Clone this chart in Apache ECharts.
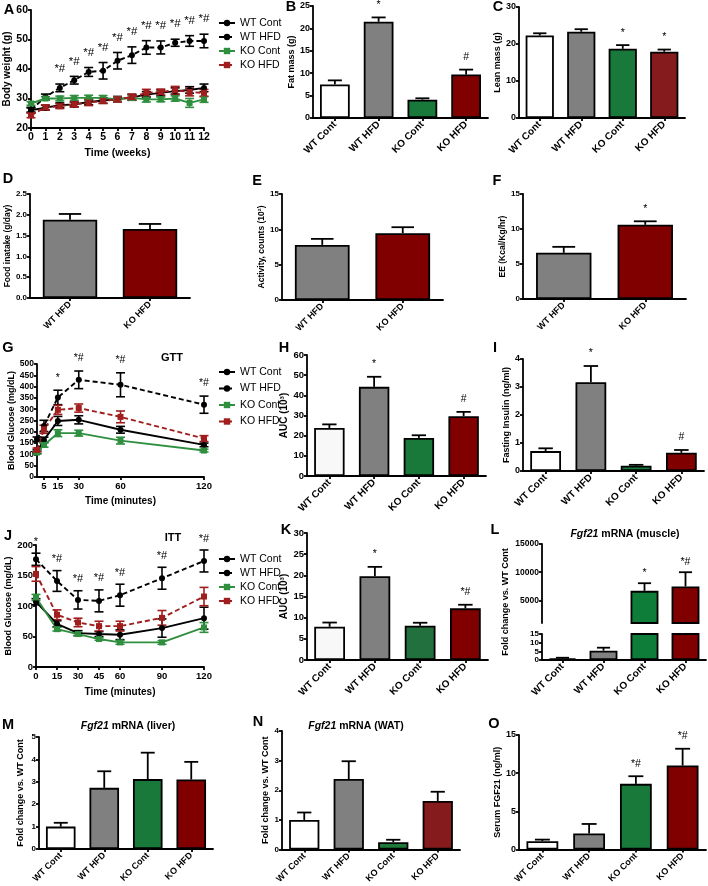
<!DOCTYPE html>
<html><head><meta charset="utf-8">
<script src="https://cdn.jsdelivr.net/npm/echarts@6.0.0/dist/echarts.min.js"></script>
<style>html,body{margin:0;padding:0;background:#fff}#c{width:708px;height:886px}</style>
</head><body><div id="c"></div>
<script>
// ---------------- DATA ----------------
const groups = ['WT Cont', 'WT HFD', 'KO Cont', 'KO HFD'];
const hfdGroups = ['WT HFD', 'KO HFD'];

// A: body weight
const weeks = [0,1,2,3,4,5,6,7,8,9,10,11,12];
const bwWTCont    = [26.0,26.9,27.7,28.0,28.8,29.3,29.8,30.4,31.3,31.9,32.5,32.9,33.6];
const bwWTContErr = [0.8,0.8,0.8,0.8,0.9,0.9,0.9,1.0,1.0,1.0,1.1,1.1,1.3];
const bwWTHFD     = [26.2,30.5,33.6,36.2,39.0,39.4,42.8,44.7,47.3,47.3,48.9,49.5,49.5];
const bwWTHFDErr  = [0.8,1.0,1.3,1.3,1.5,2.8,2.8,2.8,2.3,2.2,1.2,1.8,2.3];
const bwKOCont    = [28.3,30.0,30.0,30.2,30.2,30.2,29.7,30.2,29.7,29.7,30.0,28.5,29.7];
const bwKOContErr = [0.6,0.6,0.8,0.8,0.9,0.8,0.6,0.7,0.9,0.8,0.9,1.5,1.0];
const bwKOHFD     = [24.3,27.0,27.4,28.0,28.6,29.2,29.7,30.5,31.9,32.2,32.8,32.2,31.9];
const bwKOHFDErr  = [0.8,0.8,0.8,0.9,1.0,0.9,0.9,1.0,1.2,1.0,1.3,1.3,1.2];
const bwAnnoIdx   = [2,3,4,5,6,7,8,9,10,11,12];
const bwAnnoText  = ['*#','*#','*#','*#','*#','*#','*#','*#','*#','*#','*#'];

// B: fat mass, C: lean mass
const fatMass = [7.5, 21.5, 4.1, 9.7];
const fatMassErr = [0.9, 0.95, 0.3, 1.1];
const fatAnnoIdx = [1, 3]; const fatAnnoText = ['*', '#'];
const leanMass = [22.3, 23.3, 18.7, 17.9];
const leanMassErr = [0.6, 0.7, 1.0, 0.6];
const leanAnnoIdx = [2, 3]; const leanAnnoText = ['*', '*'];

// D, E, F
const foodIntake = [1.88, 1.66]; const foodIntakeErr = [0.14, 0.12];
const activity = [7.8, 9.45]; const activityErr = [0.85, 0.85];
const energyExp = [6.6, 10.6]; const energyExpErr = [0.85, 0.5];
const eeAnnoIdx = [1]; const eeAnnoText = ['*'];

// G: GTT
const gttTime = [0, 5, 15, 30, 60, 120];
const gttTicks = [5, 15, 30, 60, 120];
const gttWTCont = [112, 164, 248, 253, 209, 142];
const gttWTContErr = [8, 12, 20, 18, 15, 8];
const gttWTHFD = [167, 226, 352, 430, 408, 320];
const gttWTHFDErr = [10, 25, 32, 39, 53, 38];
const gttKOCont = [108, 142, 194, 194, 161, 117];
const gttKOContErr = [6, 10, 15, 13, 15, 6];
const gttKOHFD = [120, 211, 297, 305, 266, 170];
const gttKOHFDErr = [8, 18, 20, 18, 26, 13];
const gttAnnoIdx = [2, 3, 4, 5]; const gttAnnoText = ['*', '*#', '*#', '*#'];

// H: GTT AUC, I: fasting insulin
const gttAUC = [23.8, 44.2, 18.9, 29.6]; const gttAUCErr = [1.8, 5.0, 1.3, 2.2];
const gttAUCAnnoIdx = [1, 3]; const gttAUCAnnoText = ['*', '#'];
const insulin = [0.71, 3.17, 0.19, 0.65]; const insulinErr = [0.1, 0.58, 0.03, 0.1];
const insAnnoIdx = [1, 3]; const insAnnoText = ['*', '#'];

// J: ITT
const ittTime = [0, 15, 30, 45, 60, 90, 120];
const ittTicks = [0, 15, 30, 45, 60, 90, 120];
const ittWTCont = [107, 70.8, 55.6, 54, 52.9, 63.8, 80];
const ittWTContErr = [5, 5, 4, 4, 8, 15, 18];
const ittWTHFD = [176.6, 141, 110, 108.4, 117.7, 145.5, 173.8];
const ittWTHFDErr = [10, 17, 15, 18, 18, 18, 18];
const ittKOCont = [114, 62, 54, 45.8, 40.3, 40.3, 64.8];
const ittKOContErr = [5, 3, 3, 2, 3, 3, 8];
const ittKOHFD = [152.6, 85.6, 73, 67, 67, 80.6, 115.5];
const ittKOHFDErr = [12, 8, 7, 8, 8, 12, 15];
const ittAnnoIdx = [0, 1, 2, 3, 4, 5, 6]; const ittAnnoText = ['*', '*#', '*#', '*#', '*#', '*#', '*#'];

// K: ITT AUC, L: muscle Fgf21
const ittAUC = [7.85, 19.8, 8.1, 12.2]; const ittAUCErr = [1.0, 2.2, 0.7, 0.85];
const ittAUCAnnoIdx = [1, 3]; const ittAUCAnnoText = ['*', '*#'];
const fgfMuscle = [1, 5.4, 6700, 7470]; const fgfMuscleErr = [0.3, 1.7, 1350, 2530];
const muscleAnnoIdx = [2, 3]; const muscleAnnoText = ['*', '*#'];
const muscleTopTicks = [5000, 10000, 15000];

// M, N, O
const fgfLiver = [1.0, 2.73, 3.12, 3.1]; const fgfLiverErr = [0.17, 0.74, 1.18, 0.79];
const fgfWAT = [1.0, 2.38, 0.25, 1.64]; const fgfWATErr = [0.25, 0.6, 0.08, 0.31];
const serumFGF = [1.1, 2.1, 8.6, 11.0]; const serumFGFErr = [0.2, 1.25, 1.0, 2.2];
const serumAnnoIdx = [2, 3]; const serumAnnoText = ['*#', '*#'];

// ---------------- STYLE / BUILD ----------------
const FONT = '"Liberation Sans", Arial, Helvetica, sans-serif';
const RED = '#800000', RED2 = '#861b1d', GREEN = '#18793a', GRAY = '#808080';
const BW = 1.8;
const barColor = {'WT Cont': '#ffffff', 'WT HFD': GRAY, 'KO Cont': GREEN, 'KO HFD': RED};
const lineSty = {
  'WT Cont': {color: '#000', dash: false, symbol: 'circle'},
  'WT HFD':  {color: '#000', dash: true,  symbol: 'circle'},
  'KO Cont': {color: '#2f8f3f', dash: false, symbol: 'rect'},
  'KO HFD':  {color: '#a01e1e', dash: true,  symbol: 'rect'}
};

const grids = [], xAxes = [], yAxes = [], series = [];
function addGrid(l, t, w, h) { grids.push({left: l, top: t, width: w, height: h}); return grids.length - 1; }

function yAx(gi, min, max, interval, name, o) {
  o = o || {};
  const ax = {
    type: 'value', gridIndex: gi, min, max, interval,
    name: name || '', nameLocation: 'middle', nameRotate: 90, nameGap: o.nameGap || 18,
    nameTextStyle: {fontFamily: FONT, fontWeight: 'bold', fontSize: o.nameSize || 9, color: '#000'},
    axisLine: {show: true, lineStyle: {color: '#000', width: BW}},
    axisTick: {show: true, length: 3, lineStyle: {color: '#000', width: BW}},
    axisLabel: {fontFamily: FONT, fontWeight: 'bold', fontSize: o.labelSize || 8.5, color: '#000', margin: 3,
      formatter: o.formatter || (v => String(v))},
    splitLine: {show: false}
  };
  if (o.custom) { ax.axisLabel.customValues = o.custom; ax.axisTick.customValues = o.custom; }
  yAxes.push(ax);
}
function xCat(gi, data, o) {
  o = o || {};
  xAxes.push({
    type: 'category', gridIndex: gi, data, show: o.show !== false,
    axisLine: {show: true, onZero: false, lineStyle: {color: '#000', width: BW}},
    axisTick: {show: true, alignWithLabel: true, length: 3, lineStyle: {color: '#000', width: BW}},
    axisLabel: {rotate: 45, interval: 0, fontFamily: FONT, fontWeight: 'bold', fontSize: o.labelSize || 9.5, color: '#000', margin: 5},
    splitLine: {show: false}
  });
}
function xVal(gi, min, max, interval, name, o) {
  o = o || {};
  const ax = {
    type: 'value', gridIndex: gi, min, max, interval,
    name, nameLocation: 'middle', nameGap: o.nameGap || 20,
    nameTextStyle: {fontFamily: FONT, fontWeight: 'bold', fontSize: o.nameSize || 10, color: '#000'},
    axisLine: {show: true, onZero: false, lineStyle: {color: '#000', width: BW}},
    axisTick: {show: true, length: 3, lineStyle: {color: '#000', width: BW}},
    axisLabel: {fontFamily: FONT, fontWeight: 'bold', fontSize: o.labelSize || 9.5, color: '#000', margin: 4, showMinLabel: true, showMaxLabel: true},
    splitLine: {show: false}
  };
  if (o.custom) { ax.axisLabel.customValues = o.custom; ax.axisTick.customValues = o.custom; }
  xAxes.push(ax);
}

function barSeries(gi, cats, vals, colors, o) {
  o = o || {};
  series.push({
    type: 'bar', xAxisIndex: gi, yAxisIndex: gi, barWidth: o.barWidth || '68%', silent: true, animation: false,
    clip: true,
    data: vals.map((v, k) => ({value: v, itemStyle: {color: (colors && colors[cats[k]]) || barColor[cats[k]]}})),
    itemStyle: {borderColor: '#000', borderWidth: BW}, z: 2
  });
}
function barErr(gi, vals, errs, o) {
  o = o || {};
  const capFrac = o.cap || 0.16;
  series.push({
    type: 'custom', xAxisIndex: gi, yAxisIndex: gi, silent: true, animation: false, clip: !!o.clip, z: 3,
    data: vals.map((v, k) => [k, v, errs[k]]),
    renderItem: function (p, api) {
      const x = api.value(0), m = api.value(1), e = api.value(2);
      const a = api.coord([x, m]), b = api.coord([x, m + e]);
      const w = api.size([1, 0])[0] * capFrac;
      const st = {stroke: '#000', lineWidth: BW};
      return {type: 'group', children: [
        {type: 'line', shape: {x1: a[0], y1: a[1], x2: b[0], y2: b[1]}, style: st},
        {type: 'line', shape: {x1: b[0] - w, y1: b[1], x2: b[0] + w, y2: b[1]}, style: st}
      ]};
    }
  });
}
function anno(gi, xs, tops, texts, gap, fs) {
  series.push({
    type: 'custom', xAxisIndex: gi, yAxisIndex: gi, silent: true, animation: false, z: 6, clip: false,
    data: xs.map((x, k) => [x, tops[k]]),
    renderItem: function (p, api) {
      const c = api.coord([api.value(0), api.value(1)]);
      return {type: 'text', x: c[0], y: c[1] - gap, style: {
        text: texts[p.dataIndex], fontSize: fs, fontFamily: FONT, fill: '#000',
        align: 'center', verticalAlign: 'bottom'}};
    }
  });
}
function barPanel(rect, cats, vals, errs, yOpt, annoIdx, annoText, o) {
  o = o || {};
  const gi = addGrid(rect[0], rect[1], rect[2], rect[3]);
  xCat(gi, cats, {labelSize: o.xLabelSize});
  yAx(gi, yOpt[0], yOpt[1], yOpt[2], yOpt[3], o.y);
  barSeries(gi, cats, vals, o.colors);
  barErr(gi, vals, errs, {cap: o.cap});
  if (annoIdx) anno(gi, annoIdx, annoIdx.map(k => vals[k] + errs[k]), annoText, o.annoGap || 7, o.annoSize || 10.5);
  return gi;
}
function linePanel(gi, xs, list) {
  list.forEach(([name, ys, es]) => {
    const s = lineSty[name];
    series.push({
      type: 'line', name, xAxisIndex: gi, yAxisIndex: gi, silent: true, animation: false, z: 4,
      data: xs.map((x, k) => [x, ys[k]]), symbol: s.symbol, symbolSize: 6, showSymbol: true,
      lineStyle: {color: s.color, width: 1.9, type: s.dash ? [5, 3] : 'solid'}, itemStyle: {color: s.color}
    });
    series.push({
      type: 'custom', xAxisIndex: gi, yAxisIndex: gi, silent: true, animation: false, z: 3,
      data: xs.map((x, k) => [x, ys[k], es[k]]),
      renderItem: function (p, api) {
        const x = api.value(0), m = api.value(1), e = api.value(2);
        const a = api.coord([x, m + e]), b = api.coord([x, m - e]);
        const w = 4.5, st = {stroke: s.color, lineWidth: 1.6};
        return {type: 'group', children: [
          {type: 'line', shape: {x1: a[0], y1: a[1], x2: b[0], y2: b[1]}, style: st},
          {type: 'line', shape: {x1: a[0] - w, y1: a[1], x2: a[0] + w, y2: a[1]}, style: st},
          {type: 'line', shape: {x1: b[0] - w, y1: b[1], x2: b[0] + w, y2: b[1]}, style: st}
        ]};
      }
    });
  });
}

// A
let g = addGrid(31, 10, 173, 118);
xVal(g, 0, 12, 1, 'Time (weeks)', {labelSize: 10.5, nameSize: 10.5, nameGap: 20});
yAx(g, 20, 60, 10, 'Body weight (g)', {labelSize: 10.5, nameSize: 10, nameGap: 17});
linePanel(g, weeks, [['WT Cont', bwWTCont, bwWTContErr], ['WT HFD', bwWTHFD, bwWTHFDErr], ['KO Cont', bwKOCont, bwKOContErr], ['KO HFD', bwKOHFD, bwKOHFDErr]]);
anno(g, bwAnnoIdx.map(k => weeks[k]), bwAnnoIdx.map(k => bwWTHFD[k] + bwWTHFDErr[k]), bwAnnoText, 9, 11.5);

// B, C
barPanel([313, 6, 175, 112], groups, fatMass, fatMassErr, [0, 25, 5, 'Fat mass (g)'], fatAnnoIdx, fatAnnoText, {y: {labelSize: 9, nameGap: 17, nameSize: 9}, xLabelSize: 10});
barPanel([519, 7, 166, 111], groups, leanMass, leanMassErr, [0, 30, 10, 'Lean mass (g)'], leanAnnoIdx, leanAnnoText, {y: {labelSize: 9, nameGap: 16, nameSize: 9}, xLabelSize: 10, colors: {'KO HFD': RED2}});

// D, E, F
barPanel([30, 194, 160, 104], hfdGroups, foodIntake, foodIntakeErr, [0, 2.5, 0.5, 'Food inatake (g/day)'], null, null, {y: {labelSize: 8, nameGap: 17, nameSize: 8.5, formatter: v => v.toFixed(1)}, xLabelSize: 9, cap: 0.14});
barPanel([282, 194, 161, 106], hfdGroups, activity, activityErr, [0, 15, 5, 'Activity, counts (10²)'], null, null, {y: {labelSize: 8, nameGap: 14, nameSize: 8.5}, xLabelSize: 9, cap: 0.14});
barPanel([523, 194, 163, 105], hfdGroups, energyExp, energyExpErr, [0, 15, 5, 'EE (Kcal/Kg/hr)'], eeAnnoIdx, eeAnnoText, {y: {labelSize: 8, nameGap: 15, nameSize: 8.5}, xLabelSize: 9, cap: 0.14});

// G
g = addGrid(37, 364, 167, 113);
xVal(g, 0, 120, 5, 'Time (minutes)', {labelSize: 9.5, nameSize: 10, nameGap: 19, custom: gttTicks});
yAx(g, 0, 500, 50, 'Blood Glucose (mg/dL)', {labelSize: 8.5, nameSize: 9, nameGap: 21});
linePanel(g, gttTime, [['WT Cont', gttWTCont, gttWTContErr], ['WT HFD', gttWTHFD, gttWTHFDErr], ['KO Cont', gttKOCont, gttKOContErr], ['KO HFD', gttKOHFD, gttKOHFDErr]]);
anno(g, gttAnnoIdx.map(k => gttTime[k]), gttAnnoIdx.map(k => gttWTHFD[k] + gttWTHFDErr[k]), gttAnnoText, 7, 10.5);

// H, I
barPanel([307, 355, 179, 121], groups, gttAUC, gttAUCErr, [0, 60, 10, 'AUC (10³)'], gttAUCAnnoIdx, gttAUCAnnoText, {y: {labelSize: 9.5, nameGap: 17, nameSize: 10}, xLabelSize: 10, colors: {'WT Cont': '#f8f8f8'}});
barPanel([523, 359, 181, 112], groups, insulin, insulinErr, [0, 4, 1, 'Fasting Insulin (ng/ml)'], insAnnoIdx, insAnnoText, {y: {labelSize: 9, nameGap: 11, nameSize: 9}, xLabelSize: 10});

// J
g = addGrid(36, 545, 168, 122);
xVal(g, 0, 120, 5, 'Time (minutes)', {labelSize: 9.5, nameSize: 10, nameGap: 20, custom: ittTicks});
yAx(g, 0, 200, 50, 'Blood Glucose (mg/dL)', {labelSize: 9.5, nameSize: 9, nameGap: 20});
linePanel(g, ittTime, [['WT Cont', ittWTCont, ittWTContErr], ['WT HFD', ittWTHFD, ittWTHFDErr], ['KO Cont', ittKOCont, ittKOContErr], ['KO HFD', ittKOHFD, ittKOHFDErr]]);
anno(g, ittAnnoIdx.map(k => ittTime[k]), ittAnnoIdx.map(k => ittWTHFD[k] + ittWTHFDErr[k]), ittAnnoText, 6, 11);

// K
barPanel([307, 533, 181, 127], groups, ittAUC, ittAUCErr, [0, 30, 5, 'AUC (10³)'], ittAUCAnnoIdx, ittAUCAnnoText, {y: {labelSize: 9.5, nameGap: 17, nameSize: 10}, xLabelSize: 10, colors: {'WT Cont': '#f8f8f8', 'KO Cont': '#23703f'}});

// L (broken axis: two stacked grids)
const lColors = {'KO Cont': '#0f7d3a'};
let gt = addGrid(542, 544, 164, 79);
xCat(gt, groups, {show: false});
yAx(gt, 1000, 15000, 1000, '', {labelSize: 8.5, custom: muscleTopTicks});
barSeries(gt, groups, fgfMuscle, lColors);
barErr(gt, fgfMuscle, fgfMuscleErr, {clip: true});
anno(gt, muscleAnnoIdx, muscleAnnoIdx.map(k => fgfMuscle[k] + fgfMuscleErr[k]), muscleAnnoText, 5, 10.5);
let gb = addGrid(542, 634, 164, 26);
xCat(gb, groups, {labelSize: 10});
yAx(gb, 0, 15, 5, '', {labelSize: 8});
barSeries(gb, groups, fgfMuscle, lColors);
barErr(gb, fgfMuscle, fgfMuscleErr, {clip: true});

// M, N, O
barPanel([39, 737, 174, 112], groups, fgfLiver, fgfLiverErr, [0, 5, 1, 'Fold change vs. WT Cont'], null, null, {y: {labelSize: 8, nameGap: 14, nameSize: 9}, xLabelSize: 9});
barPanel([282, 731, 178, 119], groups, fgfWAT, fgfWATErr, [0, 4, 1, 'Fold change vs. WT Cont'], null, null, {y: {labelSize: 8, nameGap: 12, nameSize: 9}, xLabelSize: 9, colors: {'KO Cont': '#1e7a3a', 'KO HFD': RED2}});
barPanel([519, 735, 187, 115], groups, serumFGF, serumFGFErr, [0, 15, 5, 'Serum FGF21 (ng/ml)'], serumAnnoIdx, serumAnnoText, {y: {labelSize: 9, nameGap: 15, nameSize: 9}, xLabelSize: 9});

// Legends
const legendBase = {orient: 'vertical', itemWidth: 16, itemHeight: 8, selectedMode: false,
  textStyle: {fontFamily: FONT, fontSize: 10.5, color: '#000', lineHeight: 12}, data: groups};
const legends = [
  Object.assign({}, legendBase, {left: 213, top: 12, itemGap: 2}),
  Object.assign({}, legendBase, {left: 213, top: 361, itemGap: 4.5}),
  Object.assign({}, legendBase, {left: 213, top: 548, itemGap: 2})
];

// Graphic texts
function txt(x, y, text, size, o) {
  o = o || {};
  return {type: 'text', x, y, rotation: o.rot || 0, silent: true, style: {
    text, fontFamily: FONT, fontWeight: 'bold', fontSize: size, fill: '#000',
    align: o.align || 'center', verticalAlign: 'middle', rich: o.rich}};
}
const letters = [['A', 9, 10], ['B', 291, 7], ['C', 498, 7], ['D', 8, 179], ['E', 257, 181], ['F', 497, 181],
  ['G', 8, 348], ['H', 284, 348], ['I', 495, 348], ['J', 8, 536], ['K', 286, 530], ['L', 495, 530],
  ['M', 8, 725], ['N', 258, 722], ['O', 494, 724]];
const graphics = letters.map(([t, x, y]) => txt(x, y, t, 14.5));
graphics.push(txt(172, 358, 'GTT', 11));
graphics.push(txt(173, 538, 'ITT', 11));
graphics.push(txt(506, 602, 'Fold change vs. WT Cont', 9, {rot: Math.PI / 2}));
const rich = s => ({i: {fontFamily: FONT, fontWeight: 'bold', fontStyle: 'italic', fontSize: s}, b: {fontFamily: FONT, fontWeight: 'bold', fontSize: s}});
graphics.push(txt(625, 534, '{i|Fgf21}{b| mRNA (muscle)}', 10.5, {rich: rich(10.5)}));
graphics.push(txt(128, 726, '{i|Fgf21}{b| mRNA (liver)}', 10.5, {rich: rich(10.5)}));
graphics.push(txt(356, 726, '{i|Fgf21}{b| mRNA (WAT)}', 10.5, {rich: rich(10.5)}));

const chart = echarts.init(document.getElementById('c'), null, {renderer: 'canvas'});
chart.setOption({
  animation: false, backgroundColor: '#fff',
  grid: grids, xAxis: xAxes, yAxis: yAxes, series, legend: legends, graphic: graphics
});
</script></body></html>
